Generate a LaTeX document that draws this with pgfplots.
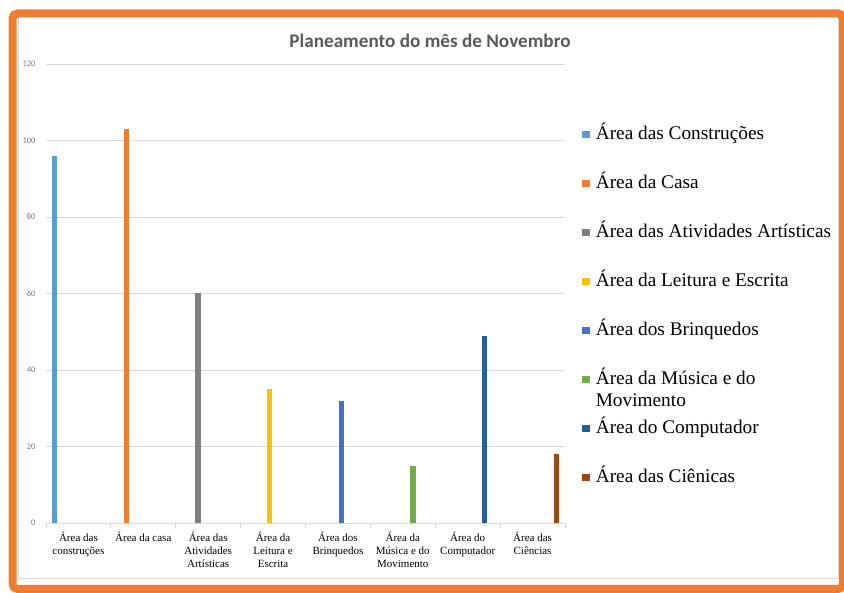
\documentclass[border=0pt]{standalone}
\usepackage{pgfplots}
\pgfplotsset{compat=1.18}
\usepackage{fontspec}
\setmainfont{Liberation Serif}
\newfontfamily\calibri{Carlito}
\definecolor{c1}{HTML}{5B9BD5}
\definecolor{c2}{HTML}{ED7D31}
\definecolor{c3}{HTML}{808080}
\definecolor{c4}{HTML}{FFC000}
\definecolor{c5}{HTML}{4472C4}
\definecolor{c6}{HTML}{70AD47}
\definecolor{c7}{HTML}{255E91}
\definecolor{c8}{HTML}{9E480E}
\definecolor{frameorange}{HTML}{ED7D31}
\definecolor{gridgray}{HTML}{D9D9D9}
\definecolor{titlegray}{HTML}{595959}
\definecolor{labgray}{HTML}{595959}
\pgfplotsset{mybar/.style={fill=#1, draw=none, bar width=0.08, bar shift=0pt,
  legend image code/.code={\fill[##1] (0pt,-3.5pt) rectangle (7.5pt,4pt);}}}
\begin{document}
\begin{tikzpicture}
\draw[gridgray, line width=1pt] (18pt,14pt) rectangle (838pt,576pt);
\draw[frameorange, line width=8pt, rounded corners=5pt] (12.5pt,4pt) rectangle (843pt,579.5pt);
\node[font=\calibri\bfseries\fontsize{19.2}{22}\selectfont, text=titlegray] at (430pt,552pt) {Planeamento do mês de Novembro};
\begin{axis}[
  at={(46pt,70pt)}, anchor=south west,
  scale only axis, width=519pt, height=459pt,
  ybar,
  xmin=-0.5, xmax=7.5, ymin=0, ymax=120,
  ytick={0,20,...,120},
  ymajorgrids, grid style={gridgray, line width=0.8pt},
  axis lines*=left,
  y axis line style={draw=none},
  x axis line style={gridgray, line width=0.8pt},
  xtick={0,...,7},
  xticklabels={{Área das\\construções},{Área da casa},{Área das\\Atividades\\Artísticas},{Área da\\Leitura e\\Escrita},{Área dos\\Brinquedos},{Área da\\Música e do\\Movimento},{Área do\\Computador},{Área das\\Ciências}},
  minor xtick={-0.5,0.5,...,7.5},
  major tick length=0pt,
  minor tick length=5pt,
  tick align=outside,
  minor tick style={gridgray, line width=0.8pt},
  xticklabel style={align=center, font=\fontsize{11}{13}\selectfont, yshift=-6pt},
  yticklabel style={font=\calibri\fontsize{8.5}{9}\selectfont, text=labgray!80, xshift=-7pt},
  /pgf/number format/assume math mode=true,
  legend cell align=left,
  legend style={at={(rel axis cs:1.033,0.865)}, anchor=north west, draw=none, fill=none,
    font=\fontsize{19.3}{22}\selectfont, inner sep=0pt, row sep=32pt,
    nodes={inner sep=0pt, text height=13pt, text depth=4pt},
    /tikz/every odd column/.append style={column sep=6pt}},
]
\addplot[mybar=c1] coordinates {(-0.364,96)};
\addlegendentry{Área das Construções}
\addplot[mybar=c2] coordinates {(0.74,103)};
\addlegendentry{Área da Casa}
\addplot[mybar=c3] coordinates {(1.844,60)};
\addlegendentry{Área das Atividades Artísticas}
\addplot[mybar=c4] coordinates {(2.948,35)};
\addlegendentry{Área da Leitura e Escrita}
\addplot[mybar=c5] coordinates {(4.052,32)};
\addlegendentry{Área dos Brinquedos}
\addplot[mybar=c6] coordinates {(5.156,15)};
\addlegendentry{\parbox[t]{8cm}{Área da Música e do\\Movimento}}
\addplot[mybar=c7] coordinates {(6.26,49)};
\addlegendentry{Área do Computador}
\addplot[mybar=c8] coordinates {(7.364,18)};
\addlegendentry{Área das Ciênicas}
\end{axis}
\pgfresetboundingbox
\useasboundingbox (0,0) rectangle (844pt,593pt);
\end{tikzpicture}
\end{document}
